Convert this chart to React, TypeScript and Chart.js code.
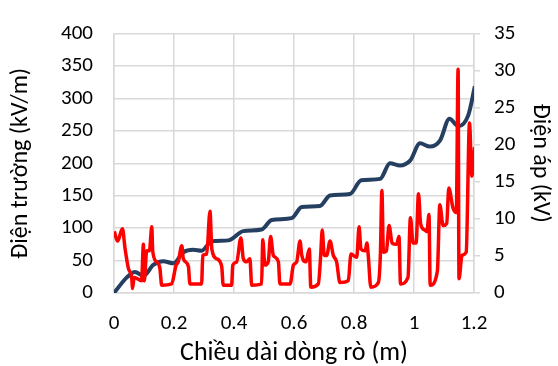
import React, { useEffect, useRef } from "react";
import { Chart, registerables } from "chart.js";

Chart.register(...registerables);

// Electric field (kV/m) along leakage length (m)
const fieldX = [
  0.001, 0.012, 0.028, 0.037, 0.048, 0.059, 0.062, 0.067, 0.092, 0.098, 0.101, 0.109, 0.118, 0.126, 0.129,
  0.142, 0.153, 0.159, 0.192, 0.207, 0.214, 0.226, 0.231, 0.248, 0.253, 0.292, 0.296, 0.309, 0.32, 0.326,
  0.342, 0.359, 0.364, 0.392, 0.396, 0.409, 0.423, 0.431, 0.442, 0.453, 0.459, 0.492, 0.496, 0.503, 0.514,
  0.522, 0.531, 0.548, 0.553, 0.587, 0.598, 0.609, 0.62, 0.626, 0.64, 0.651, 0.656, 0.681, 0.689, 0.694,
  0.701, 0.709, 0.72, 0.731, 0.742, 0.753, 0.781, 0.79, 0.809, 0.817, 0.823, 0.837, 0.843, 0.848, 0.856,
  0.881, 0.888, 0.893, 0.898, 0.908, 0.917, 0.927, 0.942, 0.95, 0.955, 0.98, 0.988, 0.997, 1.007, 1.015,
  1.022, 1.036, 1.043, 1.05, 1.054, 1.078, 1.086, 1.097, 1.109, 1.116, 1.13, 1.141, 1.147, 1.15, 1.16,
  1.174, 1.185, 1.193, 1.202,
];
const fieldY = [
  95, 80, 99, 68, 38, 24, 7, 24, 19, 75, 19, 65, 65, 102, 65,
  48, 38, 12, 14, 43, 48, 73, 53, 41, 14, 14, 58, 60, 126, 68,
  53, 41, 12, 12, 43, 48, 85, 53, 48, 53, 12, 14, 82, 43, 48,
  87, 58, 48, 14, 14, 43, 48, 80, 58, 48, 68, 9, 14, 58, 97,
  58, 58, 80, 58, 48, 16, 19, 60, 55, 102, 68, 65, 77, 55, 9,
  16, 60, 158, 63, 65, 104, 77, 75, 87, 14, 24, 116, 77, 77, 153,
  107, 97, 95, 121, 12, 34, 136, 104, 107, 162, 131, 124, 345, 22, 58,
  63, 262, 180, 225,
];

// Voltage (kV) along leakage length (m)
const voltX = [
  0, 0.042, 0.07, 0.098, 0.131, 0.164, 0.198, 0.231, 0.264, 0.292, 0.326, 0.381, 0.431, 0.492, 0.526, 0.592,
  0.626, 0.687, 0.72, 0.787, 0.824, 0.887, 0.92, 0.953, 0.987, 1.02, 1.053, 1.087, 1.118, 1.148, 1.181, 1.203,
];
const voltY = [
  0, 2.08, 2.85, 2.3, 3.8, 4.3, 4.0, 5.5, 5.84, 5.7, 7.0, 7.1, 8.35, 8.56, 9.84, 10.1,
  11.6, 11.75, 13.16, 13.37, 15.2, 15.4, 17.5, 17.2, 17.85, 20.2, 19.76, 20.6, 23.5, 22.5, 24.0, 27.9,
];

const xTickLabels = ["0", "0.2", "0.4", "0.6", "0.8", "1", "1.2"];
const xTitle = "Chiều dài dòng rò (m)";
const yLeftTitle = "Điện trường (kV/m)";
const yRightTitle = "Điện áp (kV)";

const FONT = "Carlito, Lato, 'Noto Sans', sans-serif";

export default function App() {
  const ref = useRef<HTMLCanvasElement>(null);
  useEffect(() => {
    const canvas = ref.current;
    if (!canvas) return;
    const chart = new Chart(canvas, {
      type: "line",
      data: {
        datasets: [
          {
            label: "E",
            data: fieldX.map((x, i) => ({ x, y: fieldY[i] })),
            borderColor: "#ff0000",
            borderWidth: 3.5,
            pointRadius: 0,
            cubicInterpolationMode: "monotone",
            yAxisID: "y",
          },
          {
            label: "U",
            data: voltX.map((x, i) => ({ x, y: voltY[i] })),
            borderColor: "#243f60",
            borderWidth: 4,
            pointRadius: 0,
            cubicInterpolationMode: "monotone",
            yAxisID: "y1",
          },
        ],
      },
      options: {
        responsive: false,
        animation: false,
        layout: { padding: { top: 19, left: 0, right: 0, bottom: 0 } },
        plugins: { legend: { display: false }, tooltip: { enabled: false } },
        scales: {
          x: {
            type: "linear",
            min: 0,
            max: 1.2,
            afterBuildTicks: (s: any) => {
              s.ticks = xTickLabels.map((_, i) => ({ value: i * 0.2 }));
            },
            ticks: {
              color: "#000",
              font: { family: FONT, size: 21 },
              padding: 18,
              maxRotation: 0,
              callback: (_v: any, i: number) => xTickLabels[i],
            },
            grid: { color: "#d9d9d9", lineWidth: 1.5, drawTicks: false },
            border: { color: "#d9d9d9", width: 1.5 },
            title: {
              display: true,
              text: xTitle,
              color: "#000",
              font: { family: FONT, size: 26 },
              padding: { top: 0, bottom: -3 },
            },
            afterFit: (s: any) => {
              s.height = 73;
            },
          },
          y: {
            position: "left",
            min: 0,
            max: 400,
            ticks: { stepSize: 50, color: "#000", font: { family: FONT, size: 21 }, padding: 21 },
            grid: { color: "#d9d9d9", lineWidth: 1.5, drawTicks: false },
            border: { color: "#d9d9d9", width: 1.5 },
            title: {
              display: true,
              text: yLeftTitle,
              color: "#000",
              font: { family: FONT, size: 24 },
              padding: { top: 7, bottom: 0 },
            },
            afterFit: (s: any) => {
              s.width = 114;
            },
          },
          y1: {
            position: "right",
            min: 0,
            max: 35,
            ticks: { stepSize: 5, color: "#000", font: { family: FONT, size: 21 }, padding: 14 },
            grid: { drawOnChartArea: false, color: "#d9d9d9", lineWidth: 1.5, tickLength: 6 },
            border: { color: "#d9d9d9", width: 1.5 },
            title: {
              display: true,
              text: yRightTitle,
              color: "#000",
              font: { family: FONT, size: 24 },
              padding: { top: 4, bottom: 0 },
            },
            afterFit: (s: any) => {
              s.width = 84;
            },
          },
        },
      },
    } as any);
    return () => chart.destroy();
  }, []);
  return (
    <div style={{ position: "fixed", left: 0, top: 0, width: 558, height: 366, background: "#fff" }}>
      <canvas ref={ref} width={558} height={366} style={{ width: 558, height: 366 }} />
    </div>
  );
}
